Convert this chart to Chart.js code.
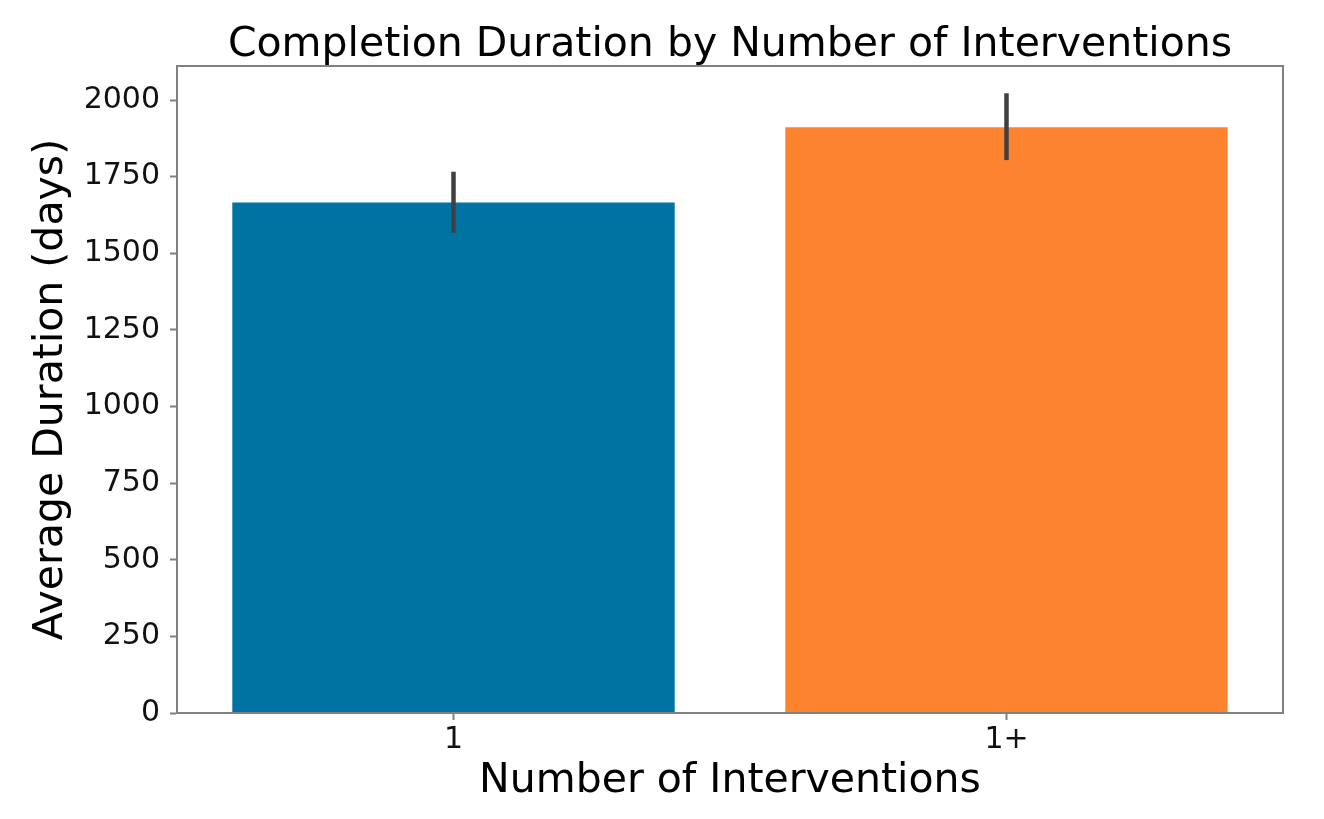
<!DOCTYPE html>
<html>
<head>
<meta charset="utf-8">
<script src="https://cdn.jsdelivr.net/npm/chart.js@4.4.0/dist/chart.umd.min.js"></script>
<style>
  html, body { margin: 0; padding: 0; background: #ffffff; }
  #wrap { width: 1324px; height: 819px; }
</style>
</head>
<body>
<div id="wrap"><canvas id="c" width="1324" height="819"></canvas></div>
<script>
const categories = ["1", "1+"];
const meanDuration = [1666, 1911];
const errLow = [1567, 1804];
const errHigh = [1766, 2022];
const barColors = ["#0173A2", "#FE832E"];
const yTicks = [0, 250, 500, 750, 1000, 1250, 1500, 1750, 2000];
const chartTitle = 'Completion Duration by Number of Interventions';

const FONT = "'DejaVu Sans', sans-serif";

const errorBarPlugin = {
  id: 'errorBars',
  afterDatasetsDraw(chart) {
    const ctx = chart.ctx;
    const x = chart.scales.x, y = chart.scales.y;
    ctx.save();
    ctx.strokeStyle = '#404040';
    ctx.lineWidth = 4.5;
    ctx.lineCap = 'butt';
    for (let i = 0; i < categories.length; i++) {
      const px = x.getPixelForValue(i);
      ctx.beginPath();
      ctx.moveTo(px, y.getPixelForValue(errLow[i]));
      ctx.lineTo(px, y.getPixelForValue(errHigh[i]));
      ctx.stroke();
    }
    ctx.restore();
  }
};

const frameTitlePlugin = {
  id: 'frameTitle',
  afterDraw(chart) {
    const a = chart.chartArea;
    const ctx = chart.ctx;
    ctx.save();
    ctx.strokeStyle = '#808080';
    ctx.lineWidth = 2;
    ctx.strokeRect(a.left, a.top, a.right - a.left, a.bottom - a.top);
    ctx.fillStyle = '#000000';
    ctx.font = "41px " + FONT;
    ctx.textAlign = 'center';
    ctx.textBaseline = 'alphabetic';
    ctx.fillText(chartTitle, (a.left + a.right) / 2, 56);
    ctx.restore();
  }
};

new Chart(document.getElementById('c'), {
  type: 'bar',
  data: {
    labels: categories,
    datasets: [{
      data: meanDuration,
      backgroundColor: barColors,
      borderWidth: 0,
      categoryPercentage: 0.8,
      barPercentage: 1.0
    }]
  },
  options: {
    responsive: false,
    animation: false,
    devicePixelRatio: 1,
    layout: { padding: { left: 0, right: 41, top: 66, bottom: 0 } },
    plugins: {
      legend: { display: false },
      tooltip: { enabled: false },
      title: { display: false }
    },
    scales: {
      x: {
        offset: true,
        grid: { display: true, offset: false, drawOnChartArea: false, color: '#808080', tickLength: 7, tickWidth: 2 },
        border: { display: true, color: '#808080', width: 2 },
        ticks: { color: '#111111', font: { family: FONT, size: 30 }, padding: 2 },
        title: {
          display: true,
          text: 'Number of Interventions',
          color: '#000000',
          font: { family: FONT, size: 41 },
          padding: { top: 0, bottom: 13 }
        },
        afterFit(s) { s.height = 106; }
      },
      y: {
        min: 0,
        max: 2111,
        afterBuildTicks(s) { s.ticks = yTicks.map(v => ({ value: v })); },
        grid: { display: true, drawOnChartArea: false, color: '#808080', tickLength: 7, tickWidth: 2 },
        border: { display: true, color: '#808080', width: 2 },
        ticks: { color: '#111111', font: { family: FONT, size: 30 }, padding: 10, callback: (v) => String(v) },
        title: {
          display: true,
          text: 'Average Duration (days)',
          color: '#000000',
          font: { family: FONT, size: 41 },
          padding: { top: 27, bottom: 0 }
        },
        afterFit(s) { s.width = 177; }
      }
    }
  },
  plugins: [errorBarPlugin, frameTitlePlugin]
});
</script>
</body>
</html>
